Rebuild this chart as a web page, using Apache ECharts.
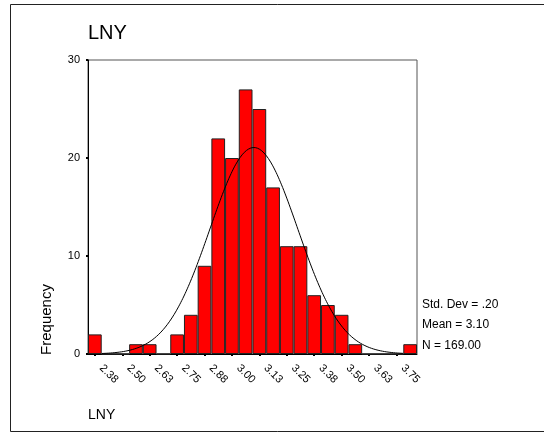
<!DOCTYPE html>
<html>
<head>
<meta charset="utf-8">
<script src="https://cdn.jsdelivr.net/npm/echarts@6/dist/echarts.min.js"></script>
<style>
html,body{margin:0;padding:0;background:#fff;}
#chart{width:544px;height:433px;}
</style>
</head>
<body>
<div id="chart"></div>
<script>
// Histogram bins (bin centers, width 0.0625)
var binCenters = ["2.375","2.4375","2.5","2.5625","2.625","2.6875","2.75","2.8125","2.875","2.9375","3.0","3.0625","3.125","3.1875","3.25","3.3125","3.375","3.4375","3.5","3.5625","3.625","3.6875","3.75","3.8125"];
var frequencies = [2,0,0,1,1,0,2,4,9,22,20,27,25,17,11,11,6,5,4,1,0,0,0,1];
var tickLabels = ["2.38","2.50","2.63","2.75","2.88","3.00","3.13","3.25","3.38","3.50","3.63","3.75"];
var yTicks = [0,10,20,30];
// Summary statistics shown on the chart
var statMean = 3.10;
var statStdDev = 0.20;
var statN = 169;
var binWidth = 0.0625;
var statLines = ["Std. Dev = .20", "Mean = 3.10", "N = 169.00"];

// Fitted normal curve from the displayed statistics
var curve = [];
var x0 = 2.40625, x1 = 3.78125;
for (var x = x0; x <= x1 + 1e-9; x += 0.005) {
  var z = (x - statMean) / statStdDev;
  var y = statN * binWidth / (statStdDev * Math.sqrt(2 * Math.PI)) * Math.exp(-0.5 * z * z);
  curve.push([x, y]);
}

var FONT = "'Liberation Sans', Arial, sans-serif";
var chart = echarts.init(document.getElementById('chart'), null, {renderer: 'canvas'});
chart.setOption({
  animation: false,
  backgroundColor: '#fff',
  grid: {left: 88, top: 60, right: 127, bottom: 79, show: true, borderColor: '#555', borderWidth: 1, backgroundColor: 'transparent'},
  xAxis: [{
    type: 'category',
    data: binCenters,
    boundaryGap: true,
    axisLine: {lineStyle: {color: '#000', width: 1}},
    axisTick: {show: true, alignWithLabel: true, interval: 1, length: 2, lineStyle: {color: '#000', width: 2}},
    axisLabel: {
      interval: 1, rotate: -45, fontSize: 11, fontFamily: FONT, color: '#000', margin: 6,
      padding: [0, 0, 0, 9],
      formatter: function (v, i) { return tickLabels[Math.round(i / 2)]; }
    },
    splitLine: {show: false}
  }, {
    type: 'value',
    min: 2.34375, max: 3.84375,
    show: false,
    position: 'bottom',
    splitLine: {show: false}
  }],
  yAxis: {
    type: 'value', min: yTicks[0], max: yTicks[yTicks.length - 1], interval: 10,
    axisLine: {show: true, lineStyle: {color: '#000', width: 1}},
    axisTick: {show: true, length: 2, lineStyle: {color: '#000', width: 2}},
    axisLabel: {fontSize: 11, fontFamily: FONT, color: '#000', margin: 8},
    splitLine: {show: false}
  },
  series: [{
    type: 'bar',
    data: frequencies,
    xAxisIndex: 0,
    barCategoryGap: '0%',
    itemStyle: {color: '#ff0000', borderColor: '#222', borderWidth: 1},
    z: 2
  }, {
    type: 'line',
    data: curve,
    xAxisIndex: 1,
    showSymbol: false,
    symbol: 'none',
    smooth: false,
    lineStyle: {color: '#000', width: 1},
    z: 3
  }],
  graphic: [
    {type: 'rect', shape: {x: 10.5, y: 4.5, width: 600, height: 427}, style: {fill: 'none', stroke: '#222', lineWidth: 1}, silent: true},
    {type: 'text', x: 88, y: 33, style: {text: 'LNY', font: '20px ' + FONT, fill: '#000', align: 'left', verticalAlign: 'middle'}},
    {type: 'text', x: 88, y: 415, style: {text: 'LNY', font: '14px ' + FONT, fill: '#000', align: 'left', verticalAlign: 'middle'}},
    {type: 'text', x: 47, y: 319.5, rotation: Math.PI / 2, style: {text: 'Frequency', font: '15px ' + FONT, fill: '#000', align: 'center', verticalAlign: 'middle'}},
    {type: 'text', x: 422, y: 305, style: {text: statLines[0], font: '12px ' + FONT, fill: '#000', align: 'left', verticalAlign: 'middle'}},
    {type: 'text', x: 422, y: 325, style: {text: statLines[1], font: '12px ' + FONT, fill: '#000', align: 'left', verticalAlign: 'middle'}},
    {type: 'text', x: 422, y: 346, style: {text: statLines[2], font: '12px ' + FONT, fill: '#000', align: 'left', verticalAlign: 'middle'}}
  ]
});
</script>
</body>
</html>
